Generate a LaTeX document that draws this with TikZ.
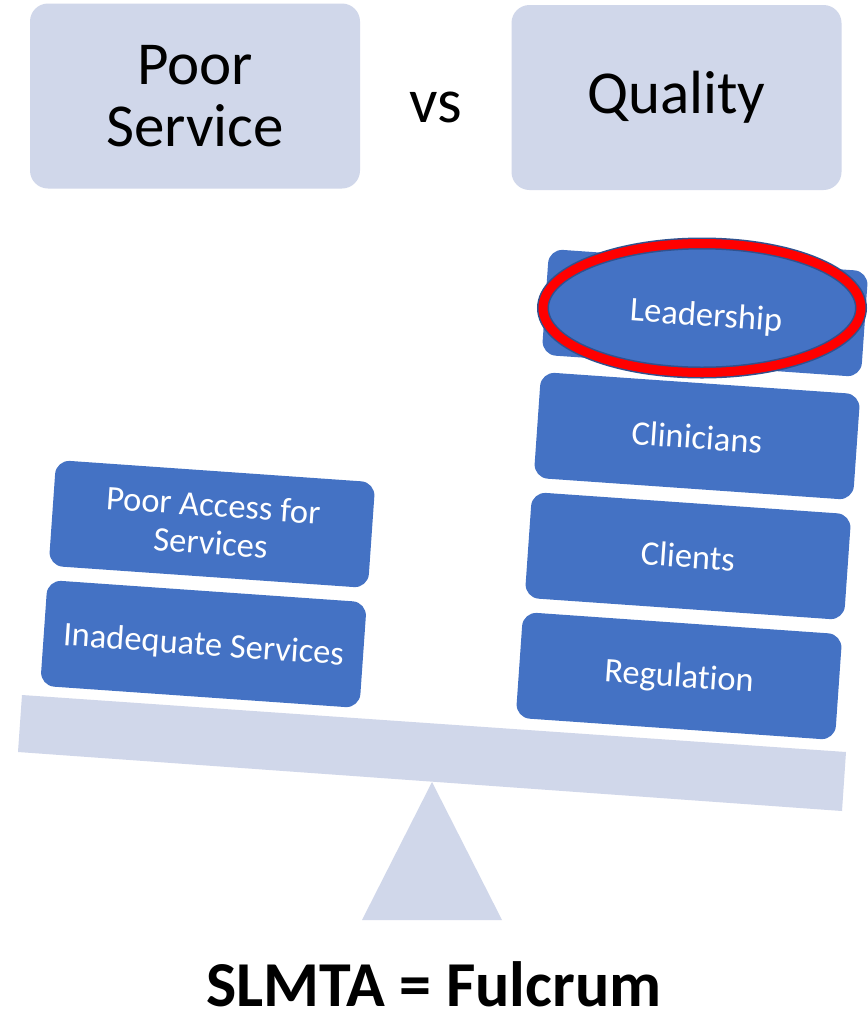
\documentclass[tikz,border=0pt]{standalone}
\usepackage{fontspec}
\setmainfont{Carlito}[Ligatures = NoCommon]
\usepackage{tikz}
\usetikzlibrary{shapes.geometric}
\definecolor{blu}{HTML}{4472C4}
\definecolor{bluscuro}{HTML}{2F528F}
\definecolor{rosso}{HTML}{FF0000}
\definecolor{lilla}{HTML}{D0D7EA}
\begin{document}
\begin{tikzpicture}[x = 1pt, y = -1pt,
    titolo/.style = {fill = lilla, rounded corners = 18pt, minimum width = 330pt, minimum height = 185pt, align = center, inner sep = 0pt, font = \fontsize{61}{62}\selectfont},
    blocco/.style = {fill = blu, rounded corners = 14pt, minimum width = 320pt, minimum height = 106pt, rotate = -4, inner sep = 0pt},
    testo/.style = {text = white, align = center, rotate = -4, inner sep = 0pt, font = \fontsize{34.5}{38}\selectfont}]
    % Parametri
    \pgfmathsetmacro{\W}{868}
    \pgfmathsetmacro{\H}{1013}
    \fill[white] (0,0) rectangle (\W,\H);
    \useasboundingbox (0,0) rectangle (\W,\H);
    % Titoli
    \node[titolo] (poor) at (195,96) {Poor\\Service};
    \node[titolo] (qual) at (676.5,97.5) {Quality};
    \node[anchor = base, inner sep = 0pt, font = \fontsize{63}{64}\selectfont] (vs) at (436,122) {vs};
    % Leva e fulcro
    \fill[lilla] (22,695) -- (846,752) -- (842,811) -- (18,752) -- cycle;
    \fill[lilla] (432,782) -- (502,920) -- (362,920) -- cycle;
    % Blocchi a sinistra
    \node[blocco] (acc) at (212,524) {};
    \node[testo] at (acc.center) {Poor Access for\\Services};
    \node[blocco] (inad) at (203.5,644) {};
    \node[testo] at (203.5,646) {Inadequate Services};
    % Blocchi a destra
    \node[blocco] (lead) at (705,313) {};
    \node[blocco] (clin) at (697,436) {};
    \node[testo] at (697,437) {Clinicians};
    \node[blocco] (cli) at (688,556) {};
    \node[testo] at (688,556) {Clients};
    \node[blocco] (reg) at (679,676) {};
    \node[testo] at (679,678) {Regulation};
    % Ellisse
    \node[ellipse, fill = blu, draw = bluscuro, double = rosso, double distance = 9pt, line width = 1.5pt, minimum width = 318pt, minimum height = 129pt, inner sep = 0pt] (ell) at (702,308) {};
    \node[testo] at (706,317) {Leadership};
    % Fulcro
    \node[anchor = base, inner sep = 0pt, font = \bfseries\fontsize{64}{66}\selectfont] (slmta) at (434,1006) {SLMTA = Fulcrum};
\end{tikzpicture}
\end{document}
